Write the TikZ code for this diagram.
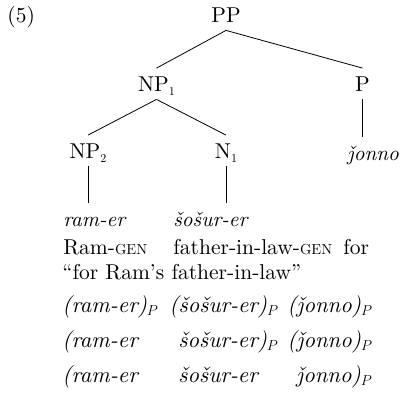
\documentclass[tikz,border=0pt]{standalone}
\usepackage{fontspec}
\setmainfont{lmroman10-regular.otf}[ItalicFont=lmroman10-italic.otf]
\usetikzlibrary{positioning}

% small caps for the gloss, tiny index digits for the tree labels
\newcommand{\gensc}{{\fontsize{14.5}{16}\selectfont GEN}}
\newcommand{\idx}[1]{\raisebox{-4pt}{\fontsize{12}{12}\selectfont #1}}

\begin{document}
\begin{tikzpicture}[x=1pt, y=-1pt,
    lbl/.style={inner xsep=0pt, inner ysep=8pt, text height=14.5pt, text depth=0pt,
                anchor=base, font=\fontsize{21.5}{25}\selectfont},
    word/.style={lbl, anchor=base west},
    form/.style={word, font=\fontsize{21}{25}\selectfont\itshape},
    pros/.style={word, font=\fontsize{22.5}{26}\selectfont\itshape},
    every path/.style={line width=0.8pt}]
\useasboundingbox (0,0) rectangle (407,399);

% tree
\node[word] (ex) at (7,22) {(5)};
\node[lbl] (pp) at (226,22) {PP};
\node[lbl] (np1) at (156.5,91) {NP\idx{1}};
\node[lbl] (p) at (362.5,91) {P};
\node[lbl] (np2) at (88,158) {NP\idx{2}};
\node[lbl] (n1) at (226,158) {N\idx{1}};
\node[form] (jonno) at (347,160) {ǰonno};

\draw (pp.south) -- (np1.north);
\draw (pp.south) -- (p.north);
\draw (np1.south) -- (np2.north);
\draw (np1.south) -- (n1.north);
\draw (p.south) -- (p.south |- jonno.north);

% words, gloss, translation
\node[form] (ramer) at (63,226) {ram-er};
\node[form] (sosurer) at (173,226) {šošur-er};
\draw (np2.south) -- (np2.south |- ramer.north);
\draw (n1.south) -- (n1.south |- sosurer.north);

\node[word] (gram) at (63,254) {Ram-\gensc};
\node[word] (gfather) at (173,254) {father-in-law-\gensc};
\node[word] (gfor) at (343,254) {for};
\node[word] (trans) at (62,279) {“for Ram’s father-in-law”};

% phrasings
\node[pros] (a1) at (62,312) {(ram-er)$_P$};
\node[pros] (a2) at (169,312) {(šošur-er)$_P$};
\node[pros] (a3) at (287,312) {(ǰonno)$_P$};

\node[pros] (b1) at (62,347) {(ram-er};
\node[pros] (b2) at (178,347) {šošur-er)$_P$};
\node[pros] (b3) at (287,347) {(ǰonno)$_P$};

\node[pros] (c1) at (62,382) {(ram-er};
\node[pros] (c2) at (178,382) {šošur-er};
\node[pros] (c3) at (296,382) {ǰonno)$_P$};
\end{tikzpicture}
\end{document}
